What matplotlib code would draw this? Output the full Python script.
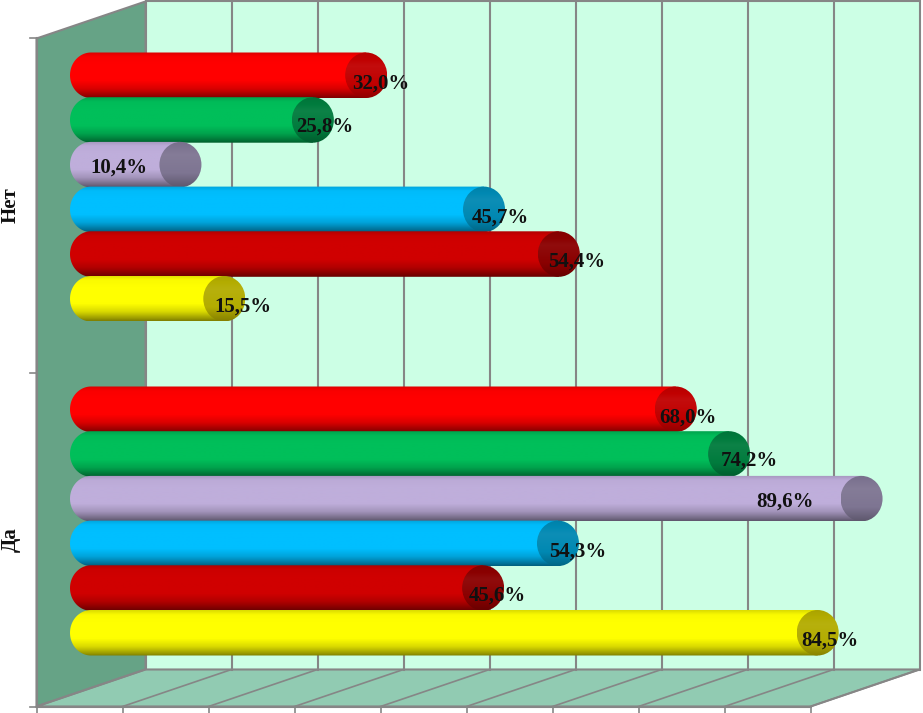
import numpy as np
import matplotlib
matplotlib.use("Agg")
import matplotlib.pyplot as plt
from matplotlib.patches import Polygon, Ellipse, PathPatch
from matplotlib.path import Path
from matplotlib.colors import to_rgb

# ---------------- data ----------------
categories = ["Да", "Нет"]
yellow_vals = [84.5, 15.5]
darkred_vals = [45.6, 54.4]
blue_vals = [54.3, 45.7]
lavender_vals = [89.6, 10.4]
green_vals = [74.2, 25.8]
red_vals = [68.0, 32.0]
x_ticks = [0, 10, 20, 30, 40, 50, 60, 70, 80, 90]

series = [yellow_vals, darkred_vals, blue_vals, lavender_vals, green_vals, red_vals]

# ---------------- style ----------------
body_colors = ["#FFFF00", "#D00000", "#00BFFF", "#BFAEDB", "#00BF5A", "#FF0000"]
cap_colors = ["#B3AC00", "#8A0000", "#0088B2", "#7E7592", "#007B3D", "#C00000"]
# label offsets in pixels (dx, dy) relative to end-cap centre, per series per category
label_dx = [[12, 19], [14, 18], [20, 16], [-77, -62], [20, 12], [12, 15]]
label_dy = [-8, -8, -8, -3, -7, -8]

W, H, DPI = 923, 713, 100
PX0, PXU = 91.0, 8.6       # pixel of value 0 (mid depth), pixels per percent
PY0, PYU = 521.0, 334.0    # pixel of first category centre, pixels per category
DX = 54.5 / PXU            # half depth offset (x, data units)
DY = 18.5 / PYU            # half depth offset (y, data units)
BAR_STEP = 44.7 / PYU
BAR_H = 45.5 / PYU
CAP_RX = 21.0 / PXU

wall_back = "#CCFFE5"
wall_left = "#66A386"
floor_col = "#91CBB2"
edge_col = "#868686"

fig = plt.figure(figsize=(W / DPI, H / DPI), dpi=DPI)
ax = fig.add_axes([0, 0, 1, 1])
ax.set_xlim(-PX0 / PXU, (W - PX0) / PXU)
ax.set_ylim((PY0 - H) / PYU, PY0 / PYU)
ax.axis("off")

xmin, xmax = x_ticks[0], x_ticks[-1]
ymin, ymax = -0.5, len(categories) - 0.5

# back wall
ax.add_patch(Polygon([(xmin + DX, ymin + DY), (xmax + DX, ymin + DY),
                      (xmax + DX, ymax + DY), (xmin + DX, ymax + DY)],
                     closed=True, facecolor=wall_back, edgecolor=edge_col, lw=1.5, zorder=0))
# left wall
ax.add_patch(Polygon([(xmin - DX, ymin - DY), (xmin - DX, ymax - DY),
                      (xmin + DX, ymax + DY), (xmin + DX, ymin + DY)],
                     closed=True, facecolor=wall_left, edgecolor=edge_col, lw=1.5, zorder=0.5))
# floor
ax.add_patch(Polygon([(xmin - DX, ymin - DY), (xmax - DX, ymin - DY),
                      (xmax + DX, ymin + DY), (xmin + DX, ymin + DY)],
                     closed=True, facecolor=floor_col, edgecolor=edge_col, lw=1.5, zorder=0.5))
# gridlines
for v in x_ticks:
    if xmin < v < xmax:
        ax.plot([v + DX, v + DX], [ymin + DY, ymax + DY], color=edge_col, lw=1.5, zorder=0.6)
    ax.plot([v + DX, v - DX], [ymin + DY, ymin - DY], color=edge_col, lw=1.2, zorder=0.6)

# ticks
tick_len_y = 7.0 / PYU
tick_len_x = 6.0 / PXU
for v in x_ticks:
    ax.plot([v - DX, v - DX], [ymin - DY, ymin - DY - tick_len_y], color=edge_col, lw=1.2, zorder=0.7)
for c in np.arange(ymin, ymax + 0.01, 1.0):
    ax.plot([xmin - DX, xmin - DX - tick_len_x], [c - DY, c - DY], color=edge_col, lw=1.2, zorder=0.7)
ax.plot([xmin - DX, xmax - DX], [ymin - DY, ymin - DY], color=edge_col, lw=1.5, zorder=0.7)
ax.plot([xmin - DX, xmin - DX], [ymin - DY, ymax - DY], color=edge_col, lw=1.5, zorder=0.7)

# shading profile across cylinder height (top -> bottom)
t_pts = [0.0, 0.10, 0.25, 0.62, 0.80, 0.92, 1.0]
s_pts = [-0.14, -0.02, 0.0, 0.0, -0.15, -0.35, -0.50]
tt = np.linspace(0, 1, 80)
shade = np.interp(tt, t_pts, s_pts)


def shaded(color):
    base = np.array(to_rgb(color))
    out = np.empty((len(tt), 1, 3))
    for i, s in enumerate(shade):
        if s >= 0:
            out[i, 0] = base + (1 - base) * s
        else:
            out[i, 0] = base * (1 + s)
    return np.clip(out, 0, 1)


def cap_shaded(color):
    base = np.array(to_rgb(color))
    prof = np.interp(tt, [0.0, 0.3, 0.7, 1.0], [-0.05, 0.05, 0.0, -0.25])
    out = np.empty((len(tt), 1, 3))
    for i, s in enumerate(prof):
        out[i, 0] = base + (1 - base) * s if s >= 0 else base * (1 + s)
    return np.clip(out, 0, 1)


n_ser = len(series)
theta = np.linspace(np.pi / 2, 3 * np.pi / 2, 60)
for si, vals in enumerate(series):
    for ci, v in enumerate(vals):
        yc = ci + (si - (n_ser - 1) / 2) * BAR_STEP
        ry = BAR_H / 2
        z = 2 + (n_ser - si)
        # body path: left half-ellipse + rectangle to value
        pts = [(CAP_RX * np.cos(a), yc + ry * np.sin(a)) for a in theta]
        pts += [(v, yc - ry), (v, yc + ry), pts[0]]
        codes = [Path.MOVETO] + [Path.LINETO] * (len(pts) - 2) + [Path.CLOSEPOLY]
        clip = PathPatch(Path(pts, codes), facecolor="none", edgecolor="none",
                         transform=ax.transData, zorder=z)
        ax.add_patch(clip)
        im = ax.imshow(shaded(body_colors[si]), extent=[-CAP_RX, v, yc - ry, yc + ry],
                       origin="upper", aspect="auto", interpolation="bilinear", zorder=z)
        im.set_clip_path(clip)
        # end cap
        cap = Ellipse((v, yc), 2 * CAP_RX, 2 * ry, facecolor="none", edgecolor="none",
                      transform=ax.transData, zorder=z + 0.1)
        ax.add_patch(cap)
        imc = ax.imshow(cap_shaded(cap_colors[si]), extent=[v - CAP_RX, v + CAP_RX, yc - ry, yc + ry],
                        origin="upper", aspect="auto", interpolation="bilinear", zorder=z + 0.1)
        imc.set_clip_path(cap)
        # value label
        ax.annotate(f"{v:.1f}%".replace(".", ","), xy=(v, yc),
                    xytext=(label_dx[si][ci], label_dy[si]), textcoords="offset pixels",
                    ha="center", va="center", fontsize=15, fontweight="bold",
                    family="Liberation Serif", color="#111111", zorder=20)

ax.set_xlim(-PX0 / PXU, (W - PX0) / PXU)
ax.set_ylim((PY0 - H) / PYU, PY0 / PYU)

# category labels
for ci, name in enumerate(categories):
    ax.annotate(name, xy=(xmin - DX, ci - DY), xytext=(-26, 0), textcoords="offset pixels",
                ha="center", va="center", rotation=90, fontsize=15, fontweight="bold",
                family="Liberation Serif", color="#111111", zorder=20)

fig.savefig("out.png", dpi=DPI)
